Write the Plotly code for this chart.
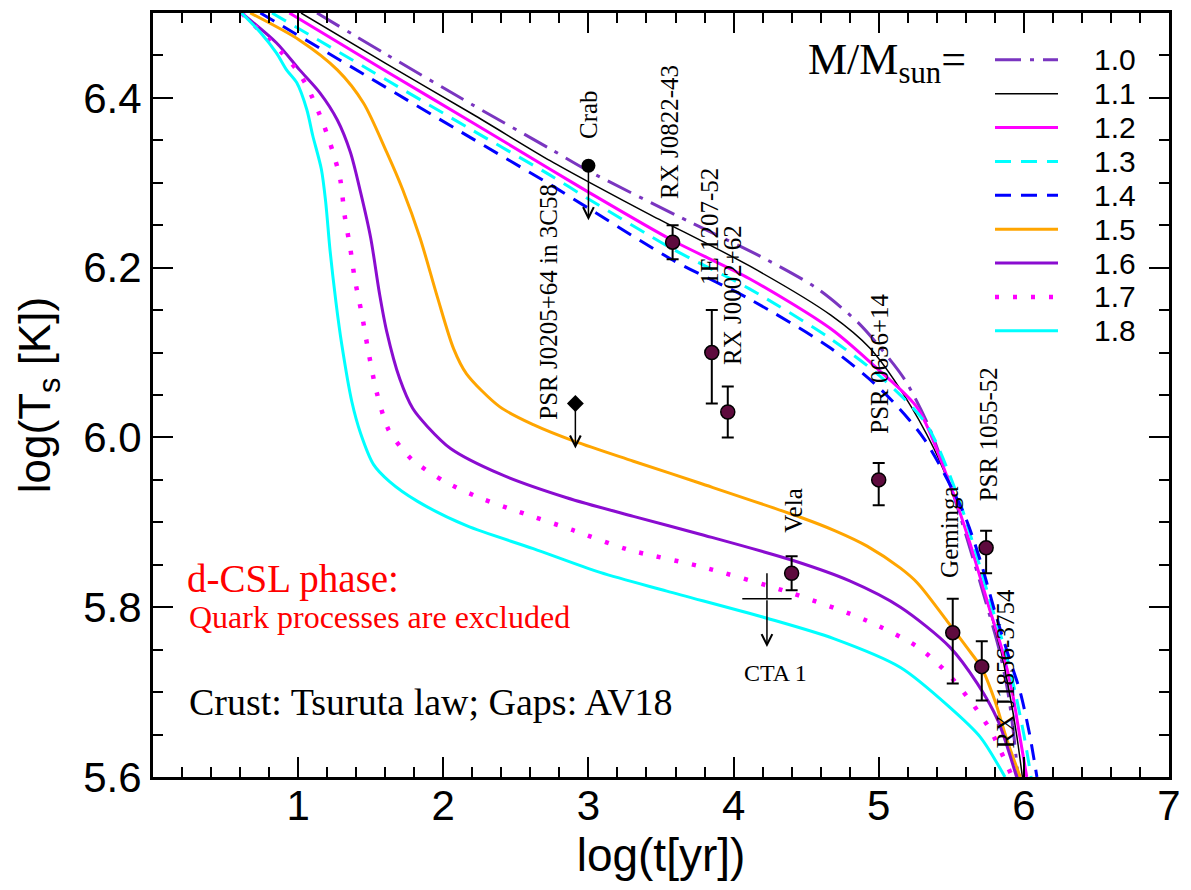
import plotly.graph_objects as go

# cooling curves for the d-CSL phase: log t [yr] vs log Ts [K], one per stellar mass
masses = ["1.0", "1.1", "1.2", "1.3", "1.4", "1.5", "1.6", "1.7", "1.8"]

t_10 = [1.13, 1.6, 2.2, 2.736, 3.0, 3.72, 4.2, 4.58, 4.86, 5.0, 5.18, 5.34, 5.5, 5.61, 5.74, 5.83, 5.89, 5.93, 5.96]
T_10 = [6.5, 6.452, 6.392, 6.340, 6.314, 6.252, 6.212, 6.175, 6.135, 6.108, 6.068, 6.015, 5.94, 5.88, 5.805, 5.75, 5.70, 5.65, 5.6]

t_11 = [1.02, 1.6, 2.2, 2.736, 3.0, 3.43, 4.11, 4.67, 4.94, 5.17, 5.38, 5.52, 5.62, 5.75, 5.84, 5.90, 5.95, 5.99]
T_11 = [6.5, 6.441, 6.381, 6.326, 6.301, 6.262, 6.202, 6.144, 6.105, 6.051, 5.987, 5.93, 5.88, 5.805, 5.75, 5.70, 5.65, 5.6]

t_12 = [0.94, 1.6, 2.2, 2.736, 3.0, 3.58, 4.11, 4.67, 4.99, 5.27, 5.49, 5.62, 5.76, 5.85, 5.92, 5.97, 6.02]
T_12 = [6.5, 6.432, 6.371, 6.316, 6.289, 6.232, 6.187, 6.128, 6.081, 6.034, 5.945, 5.88, 5.80, 5.75, 5.70, 5.65, 5.6]

t_13 = [0.82, 1.5, 2.2, 2.736, 3.0, 3.58, 4.11, 4.67, 5.03, 5.33, 5.54, 5.65, 5.78, 5.87, 5.94, 6.00, 6.05]
T_13 = [6.5, 6.432, 6.362, 6.309, 6.281, 6.222, 6.175, 6.116, 6.069, 6.015, 5.933, 5.875, 5.80, 5.75, 5.70, 5.65, 5.6]

t_14 = [0.74, 1.5, 2.2, 2.736, 3.0, 3.58, 4.11, 4.67, 5.03, 5.31, 5.58, 5.70, 5.80, 5.89, 5.975, 6.04, 6.09]
T_14 = [6.5, 6.423, 6.352, 6.298, 6.270, 6.209, 6.163, 6.105, 6.054, 5.999, 5.913, 5.855, 5.795, 5.745, 5.70, 5.65, 5.6]

t_15 = [0.67, 1.01, 1.27, 1.45, 1.61, 1.72, 1.84, 1.96, 2.07, 2.16, 2.39, 2.62, 2.91, 3.31, 3.77,
        4.46, 4.70, 4.92, 5.15, 5.27, 5.47, 5.61, 5.71, 5.80, 5.885, 5.975]
T_15 = [6.5, 6.468, 6.433, 6.394, 6.336, 6.292, 6.235, 6.165, 6.105, 6.075, 6.036, 6.015, 5.995, 5.972, 5.946,
        5.906, 5.890, 5.872, 5.846, 5.828, 5.784, 5.752, 5.728, 5.69, 5.643, 5.6]

t_16 = [0.61, 0.85, 1.01, 1.15, 1.27, 1.36, 1.43, 1.50, 1.56, 1.61, 1.70, 1.79, 1.89, 2.05, 2.39,
        2.85, 3.31, 3.77, 4.41, 4.80, 5.15, 5.49, 5.68, 5.82, 5.95]
T_16 = [6.5, 6.465, 6.433, 6.406, 6.374, 6.336, 6.289, 6.235, 6.17, 6.125, 6.069, 6.034, 6.013, 5.987, 5.957,
        5.929, 5.907, 5.886, 5.855, 5.831, 5.80, 5.753, 5.710, 5.667, 5.6]

t_17 = [0.61, 0.90, 0.99, 1.06, 1.17, 1.24, 1.29, 1.32, 1.36, 1.39, 1.44, 1.48, 1.54, 1.62, 1.70,
        1.79, 2.01, 2.25, 2.51, 2.89, 3.27, 3.77, 4.41, 4.92, 5.27, 5.47, 5.63, 5.77, 5.92]
T_17 = [6.5, 6.451, 6.433, 6.414, 6.371, 6.336, 6.304, 6.262, 6.222, 6.187, 6.144, 6.105, 6.054, 6.010, 5.990,
        5.973, 5.948, 5.929, 5.913, 5.891, 5.868, 5.848, 5.816, 5.784, 5.753, 5.723, 5.690, 5.655, 5.6]

t_18 = [0.61, 0.74, 0.85, 0.92, 0.99, 1.06, 1.10, 1.16, 1.19, 1.22, 1.26, 1.30, 1.37, 1.43, 1.52,
        1.63, 1.82, 2.16, 2.62, 3.08, 3.54, 4.23, 4.69, 5.15, 5.49, 5.70, 5.87]
T_18 = [6.5, 6.477, 6.453, 6.433, 6.418, 6.386, 6.356, 6.316, 6.277, 6.22, 6.16, 6.11, 6.042, 6.005, 5.968,
        5.948, 5.925, 5.896, 5.869, 5.841, 5.819, 5.787, 5.763, 5.729, 5.682, 5.647, 5.6]

# observed pulsars with error bars
obs_names = ["RX J0822-43", "1E 1207-52", "RX J0002+62", "Vela", "PSR 0656+14",
             "Geminga", "RX J1856-3754", "PSR 1055-52"]
obs_t = [3.58, 3.85, 3.96, 4.40, 5.00, 5.51, 5.71, 5.74]
obs_T = [6.23, 6.10, 6.03, 5.84, 5.95, 5.77, 5.73, 5.87]
obs_up = [0.02, 0.05, 0.03, 0.02, 0.02, 0.04, 0.03, 0.02]
obs_down = [0.02, 0.06, 0.03, 0.02, 0.03, 0.06, 0.04, 0.03]

# upper limits
crab_t, crab_T, crab_lim = 3.0, 6.32, 6.256
c58_t, c58_T, c58_lim = 2.91, 6.04, 5.987
cta_t, cta_T, cta_terr, cta_up, cta_lim = 4.23, 5.81, 0.17, 0.03, 5.753

curves = [(t_10, T_10), (t_11, T_11), (t_12, T_12), (t_13, T_13), (t_14, T_14),
          (t_15, T_15), (t_16, T_16), (t_17, T_17), (t_18, T_18)]
styles = [
    dict(color="#7a35c0", width=3, dash="26px,9px,4px,9px"),
    dict(color="black", width=1.5, dash="solid"),
    dict(color="#ff00ff", width=3, dash="solid"),
    dict(color="#00ffff", width=3, dash="16px,10px"),
    dict(color="#0000ff", width=3, dash="16px,10px"),
    dict(color="#ffa500", width=3, dash="solid"),
    dict(color="#8a0cd0", width=3, dash="solid"),
    dict(color="#ff00ff", width=4.5, dash="4px,14px"),
    dict(color="#00ffff", width=3, dash="solid"),
]

serif = "Liberation Serif, Times New Roman, serif"
sans = "Liberation Sans, Arial, sans-serif"

fig = go.Figure()

for m, (tt, TT), st in zip(masses, curves, styles):
    fig.add_trace(go.Scatter(x=tt, y=TT, mode="lines", name=m, line=st,
                             line_shape="spline", line_smoothing=0.8, showlegend=False))

fig.add_trace(go.Scatter(
    x=obs_t, y=obs_T, mode="markers", showlegend=False,
    marker=dict(size=14, color="#5e0b3e", line=dict(color="black", width=1.5)),
    error_y=dict(type="data", array=obs_up, arrayminus=obs_down, symmetric=False,
                 color="black", thickness=2, width=6),
))

fig.add_trace(go.Scatter(x=[crab_t], y=[crab_T], mode="markers", showlegend=False,
                         marker=dict(size=14, color="black")))
fig.add_trace(go.Scatter(x=[c58_t], y=[c58_T], mode="markers", showlegend=False,
                         marker=dict(size=13, color="black", symbol="diamond")))
fig.add_trace(go.Scatter(
    x=[cta_t], y=[cta_T], mode="markers", showlegend=False,
    marker=dict(size=1, opacity=0),
    error_x=dict(type="data", array=[cta_terr], color="black", thickness=1.5, width=0),
    error_y=dict(type="data", array=[cta_up], arrayminus=[0], symmetric=False,
                 color="black", thickness=1.5, width=0),
))

# downward arrows of the upper limits
for t0, T0, T1 in [(crab_t, crab_T, crab_lim), (c58_t, c58_T, c58_lim), (cta_t, cta_T, cta_lim)]:
    fig.add_annotation(x=t0, y=T1, ax=t0, ay=T0, axref="x", ayref="y", xref="x", yref="y",
                       text="", showarrow=True, arrowhead=5, arrowsize=1.4,
                       arrowwidth=1.5, arrowcolor="black", standoff=0, startstandoff=0)

# source labels
label_names = ["Crab", "PSR J0205+64 in 3C58", "RX J0822-43", "1E 1207-52", "RX J0002+62",
               "PSR 0656+14", "Vela", "Geminga", "PSR 1055-52", "RX J1856-3754"]
label_t = [3.005, 2.729, 3.563, 3.839, 3.997, 5.003, 4.411, 5.486, 5.755, 5.872]
label_T = [6.380, 6.160, 6.360, 6.248, 6.168, 6.087, 5.914, 5.889, 6.004, 5.728]
for s, xx, yy in zip(label_names, label_t, label_T):
    fig.add_annotation(x=xx, y=yy, text=s, showarrow=False, textangle=-90,
                       xanchor="center", yanchor="middle",
                       font=dict(family=serif, size=25, color="black"))
fig.add_annotation(x=4.287, y=5.723, text="CTA 1", showarrow=False,
                   font=dict(family=serif, size=24, color="black"))

fig.add_annotation(x=0.22, y=5.833, text="d-CSL phase:", showarrow=False, xanchor="left",
                   font=dict(family=serif, size=39, color="red"))
fig.add_annotation(x=0.235, y=5.788, text="Quark processes are excluded", showarrow=False,
                   xanchor="left", font=dict(family=serif, size=32, color="red"))
fig.add_annotation(x=0.235, y=5.688, text="Crust: Tsuruta law; Gaps: AV18", showarrow=False,
                   xanchor="left", font=dict(family=serif, size=38, color="black"))

# legend block drawn by hand, pixel rows converted to paper fractions
plot_l, plot_b, plot_w, plot_h = 153, 777, 1016, 767
def px(x):
    return (x - plot_l) / plot_w
def py(y):
    return (plot_b - y) / plot_h

fig.add_annotation(xref="paper", yref="paper", x=px(806), y=py(60), xanchor="left",
                   yanchor="middle", text="M/M<sub>sun</sub>=", showarrow=False,
                   font=dict(family=serif, size=44, color="black"))
for i, (m, st) in enumerate(zip(masses, styles)):
    row = 57 + i * 34.0
    fig.add_shape(type="line", xref="paper", yref="paper", x0=px(995), x1=px(1058),
                  y0=py(row), y1=py(row),
                  line=dict(color=st["color"], width=st["width"], dash=st["dash"]))
    fig.add_annotation(xref="paper", yref="paper", x=px(1092), y=py(row), xanchor="left",
                       yanchor="middle", text=m, showarrow=False,
                       font=dict(family=sans, size=30, color="black"))

axis_common = dict(showline=True, linewidth=3, linecolor="black", mirror="allticks",
                   ticks="inside", ticklen=20, tickwidth=2, tickcolor="black",
                   showgrid=False, zeroline=False,
                   tickfont=dict(family=sans, size=42, color="black"))

fig.update_xaxes(range=[0, 7], tickmode="linear", tick0=0, dtick=1, labelalias={"0": " "},
                 ticklabelstandoff=-10,
                 minor=dict(tickmode="linear", tick0=0, dtick=0.2, ticks="inside",
                            ticklen=10, tickwidth=2, tickcolor="black"),
                 title=dict(text="log(t[yr])", standoff=2,
                            font=dict(family=sans, size=46, color="black")),
                 **axis_common)
fig.update_yaxes(range=[5.6, 6.5], tickmode="linear", tick0=5.6, dtick=0.2, tickformat=".1f",
                 minor=dict(tickmode="linear", tick0=5.6, dtick=0.05, ticks="inside",
                            ticklen=10, tickwidth=2, tickcolor="black"),
                 title=dict(text="log(T<sub>s</sub> [K])", standoff=19,
                            font=dict(family=sans, size=44, color="black")),
                 **axis_common)

fig.update_layout(width=1191, height=890, margin=dict(l=153, r=22, t=10, b=113),
                  plot_bgcolor="white", paper_bgcolor="white", showlegend=False)

fig.write_html("out.html", config={"displayModeBar": False},
               post_script="document.body.style.margin='0';")
